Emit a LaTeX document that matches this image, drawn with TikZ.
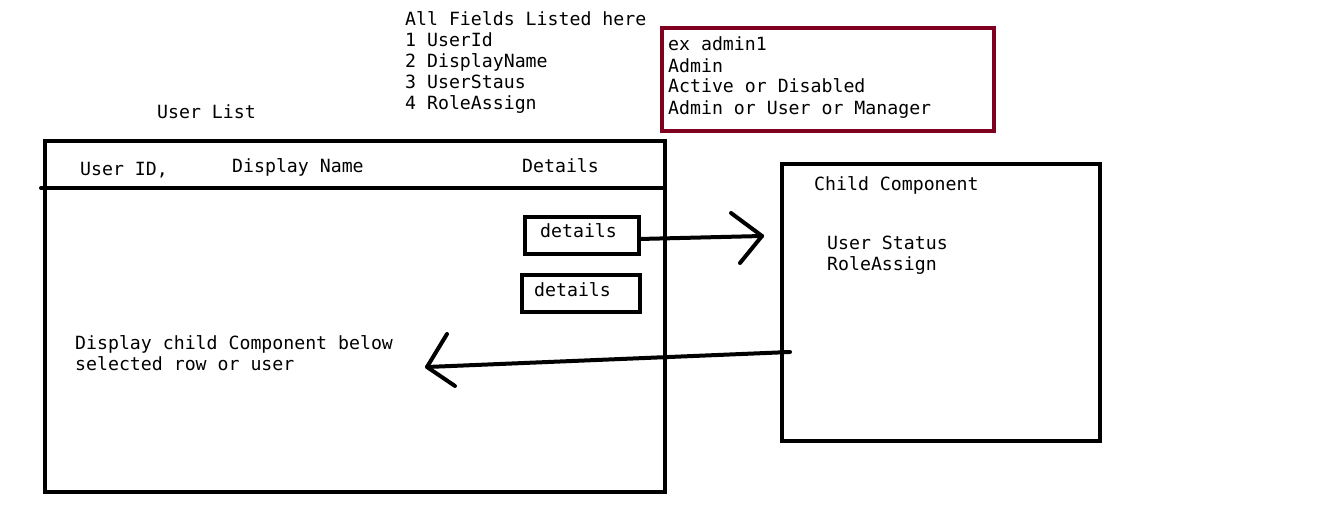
\documentclass[tikz,border=0pt]{standalone}
\usepackage{fontspec}
\setmonofont{DejaVu Sans Mono}
\definecolor{boxred}{RGB}{128,0,32}
\begin{document}
\begin{tikzpicture}[x=1pt,y=-1pt,
  txt/.style={anchor=base west,inner sep=0pt,align=left,font=\ttfamily\fontsize{18.2}{21}\selectfont},
  frame/.style={draw=black,line width=4pt,outer sep=0pt,inner sep=0pt,anchor=north west},
  conn/.style={draw=black,line width=4pt,line cap=round,line join=round}]
\useasboundingbox (0,0) rectangle (1332,516);
% main list box
\node[frame,minimum width=620pt,minimum height=351pt] (list) at (45,141) {};
\coordinate (hl) at (41,188);
\coordinate (hr) at (665,188);
\draw[line width=4pt,line cap=round] (hl) -- (hr);
% texts (base of last line)
\node[txt] (fields) at (405,110) {All Fields Listed here\\1 UserId\\2 DisplayName\\3 UserStaus\\4 RoleAssign};
\node[txt] (ulist) at (157,118) {User List};
\node[txt] (uid) at (80,175) {User ID,};
\node[txt] (dname) at (232,172) {Display Name};
\node[txt] (dets) at (522,172) {Details};
% red example box
\node[frame,draw=boxred,minimum width=332pt,minimum height=103pt] (ex) at (662,28) {};
\node[txt] (extext) at (668,114) {ex admin1\\Admin\\Active or Disabled\\Admin or User or Manager};
% details buttons
\node[frame,minimum width=114pt,minimum height=37pt] (d1) at (525,217) {};
\node[txt] (d1t) at (540,237) {details};
\node[frame,minimum width=118pt,minimum height=37pt] (d2) at (522,275) {};
\node[txt] (d2t) at (534,296) {details};
% child box
\node[frame,minimum width=318pt,minimum height=277pt] (child) at (782,164) {};
\node[txt] (ctitle) at (814,190) {Child Component};
\node[txt] (cfields) at (827,270) {User Status\\RoleAssign};
\node[txt] (disp) at (75,370) {Display child Component below\\selected row or user};
% arrow 1
\coordinate (a1tip) at (762,236);
\coordinate (a1u) at (731,213);
\coordinate (a1d) at (740,263);
\draw[conn] (d1.east |- 0,239) -- (a1tip);
\draw[conn] (a1u) -- (a1tip) -- (a1d);
% arrow 2
\coordinate (a2s) at (790,352);
\coordinate (a2tip) at (427,367);
\coordinate (a2u) at (447,334);
\coordinate (a2d) at (455,386);
\draw[conn] (a2s) -- (a2tip);
\draw[conn] (a2u) -- (a2tip) -- (a2d);
\end{tikzpicture}
\end{document}
